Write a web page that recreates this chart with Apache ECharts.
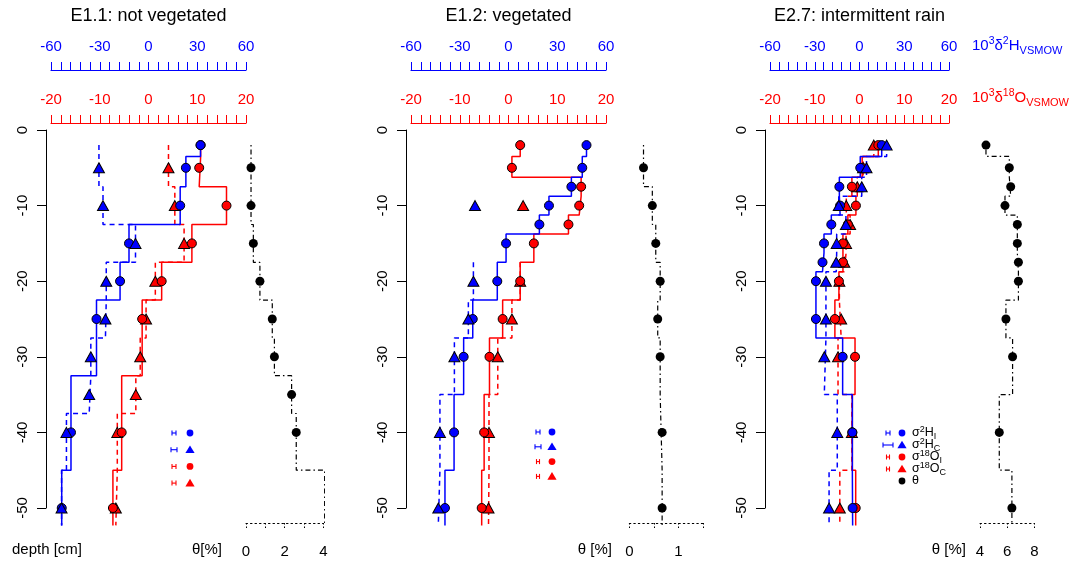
<!DOCTYPE html>
<html>
<head>
<meta charset="utf-8">
<script src="https://cdn.jsdelivr.net/npm/echarts@6/dist/echarts.min.js"></script>
<style>
  html, body { margin: 0; background: #fff; }
  #chart { width: 1069px; height: 566px; }
</style>
</head>
<body>
<div id="chart"></div>
<script>
// sampling depths [cm] and profiles, one set per experiment
const depth1 = [-2, -5, -10, -15, -20, -25, -30, -35, -40, -50];
const h2I_1 = [32, 23, 19.5, -12, -17.5, -32, null, null, -47.7, -53.4];
const h2C_1 = [null, -30.5, -28, -8, -26, -26.5, -35.5, -36.5, -50.5, -53.5];
const o18I_1 = [10.7, 10.4, 16, 8.9, 2.7, -1.3, null, null, -5.5, -7.3];
const o18C_1 = [null, 4.1, 5.4, 7.3, 1.4, -0.5, -1.7, -2.6, -6.4, -6.7];
const theta1 = [null, 0.26, 0.26, 0.38, 0.72, 1.36, 1.47, 2.36, 2.6, 4.07];

const depth2 = [-2, -5, -7.5, -10, -12.5, -15, -20, -25, -30, -40, -50];
const h2I_2 = [48, 45.4, 38.7, 24.9, 19, -1.5, -6.9, -22, -27.6, -33.5, -39.1];
const h2C_2 = [null, null, null, -20.6, null, null, -21.6, -24.7, -33.3, -42.2, -43.2];
const o18I_2 = [2.4, 0.7, 14.9, 14.5, 12.3, 5.2, 2.4, -1.2, -3.9, -5.0, -5.5];
const o18C_2 = [null, null, null, 3.0, null, null, 2.4, 0.7, -2.2, -4.0, -4.1];
const theta2 = [null, 0.29, null, 0.47, null, 0.54, 0.63, 0.58, 0.63, 0.67, 0.67];

const depth3 = [-2, -5, -7.5, -10, -12.5, -15, -17.5, -20, -25, -30, -40, -50];
const h2I_3 = [14.9, 0.5, -13.5, -13, -18.9, -23.8, -24.8, -29.2, -29.2, -11.3, -4.8, -4.6];
const h2C_3 = [18.2, 4.7, 1.5, -13.9, -9.1, -15.3, -15.6, -22.5, -22.5, -23.6, -14.9, -20.4];
const o18I_3 = [4.2, 0.6, -1.7, -0.8, -2.6, -3.7, -3.7, -4.6, -5.5, -1.0, -1.6, -0.85];
const o18C_3 = [3.2, 0.8, -0.5, -2.95, -2.1, -3.0, -3.4, -4.5, -4.1, -4.8, -1.7, -4.4];
const theta3 = [4.44, 6.16, 6.26, 5.84, 6.75, 6.75, 6.83, 6.83, 5.91, 6.40, 5.42, 6.35];

// analytical error bars shown in the legends (pixel widths)
const errBars1 = [4, 6, 4, 4];
const errBars2 = [4, 6, 3, 3];
const errBars3 = [4, 10, 3, 3];

const BLUE = '#0000ff', RED = '#ff0000';
const FONT = '"Liberation Sans", Arial, sans-serif';
const TOP = 130, H = 378, BOTTOM_DEPTH = -52.3;

const panels = [
  { title: 'E1.1: not vegetated', left: 51, width: 195, thLeft: 246, thWidth: 77.3,
    thMin: 0, thMax: 4, thStep: 1, thLabel: v => (v % 2 === 0 ? v : ''),
    depth: depth1, hI: h2I_1, hC: h2C_1, oI: o18I_1, oC: o18C_1, theta: theta1, cTop: -2,
    thName: 'θ[%]', thNameX: 222, leg: { bx: 174, mx: 190, y: 433, gap: 16.7, bars: errBars1, text: false } },
  { title: 'E1.2: vegetated', left: 411, width: 195, thLeft: 629.3, thWidth: 73.5,
    thMin: 0, thMax: 1.5, thStep: 0.5, thLabel: v => (Number.isInteger(v) ? v : ''),
    depth: depth2, hI: h2I_2, hC: h2C_2, oI: o18I_2, oC: o18C_2, theta: theta2, cTop: -17.5,
    thName: 'θ [%]', thNameX: 612, leg: { bx: 538, mx: 552, y: 432, gap: 14.8, bars: errBars2, text: false } },
  { title: 'E2.7: intermittent rain', left: 770, width: 179, thLeft: 980, thWidth: 54.3,
    thMin: 4, thMax: 8, thStep: 2, thLabel: v => v,
    depth: depth3, hI: h2I_3, hC: h2C_3, oI: o18I_3, oC: o18C_3, theta: theta3, cTop: -2,
    thName: 'θ [%]', thNameX: 966, leg: { bx: 888, mx: 902, y: 433, gap: 12, bars: errBars3, text: true } }
];

// step profile: each sample holds its value down to the midpoint with the next sample
function stepLine(depths, values, top) {
  const pts = depths.map((d, i) => [d, values[i]]).filter(p => p[1] != null && p[0] <= top);
  const out = [];
  let start = top;
  pts.forEach((p, i) => {
    const end = i < pts.length - 1 ? (p[0] + pts[i + 1][0]) / 2 : BOTTOM_DEPTH;
    out.push([p[1], start], [p[1], end]);
    start = end;
  });
  return out;
}
function points(depths, values) {
  return depths.map((d, i) => [values[i], d]).filter(p => p[0] != null);
}

const grid = [], xAxis = [], yAxis = [], series = [], graphic = [];

panels.forEach((P, i) => {
  grid.push({ left: P.left, top: TOP, width: P.width, height: H });
  grid.push({ left: P.thLeft, top: TOP, width: P.thWidth, height: H });

  yAxis.push({
    gridIndex: 2 * i, type: 'value', min: -50, max: 0, interval: 10, offset: 5,
    axisLine: { show: true, onZero: false, lineStyle: { color: '#000', width: 1 } },
    axisTick: { show: true, length: 9, lineStyle: { color: '#000' } },
    axisLabel: { rotate: 90, margin: 16, fontSize: 15, color: '#000', fontFamily: FONT },
    splitLine: { show: false }
  });
  yAxis.push({ gridIndex: 2 * i + 1, type: 'value', min: -50, max: 0, show: false });

  const isoAxis = (color, min, max, interval, offset) => ({
    gridIndex: 2 * i, type: 'value', position: 'top', offset, min, max, interval,
    axisLine: { show: true, onZero: false, lineStyle: { color, width: 1.2 } },
    axisTick: { show: true, length: 8, lineStyle: { color } },
    minorTick: { show: true, splitNumber: 5, length: 8, lineStyle: { color } },
    axisLabel: { color, fontSize: 15, margin: 16, fontFamily: FONT },
    splitLine: { show: false }, minorSplitLine: { show: false }
  });
  xAxis.push(isoAxis(BLUE, -60, 60, 30, 60));
  xAxis.push(isoAxis(RED, -20, 20, 10, 7));
  xAxis.push({
    gridIndex: 2 * i + 1, type: 'value', position: 'bottom', offset: 15,
    min: P.thMin, max: P.thMax, interval: P.thStep,
    axisLine: { show: true, onZero: false, lineStyle: { color: '#000', type: [1.5, 3] } },
    axisTick: { show: true, length: 7, lineStyle: { color: '#000', type: [1.5, 2] } },
    axisLabel: { color: '#000', fontSize: 15, margin: 21, fontFamily: FONT, formatter: P.thLabel },
    splitLine: { show: false }
  });

  const bx = 3 * i, rx = 3 * i + 1, tx = 3 * i + 2, y = 2 * i;
  const lineS = (xi, vals, color, dashed, top) => ({
    type: 'line', xAxisIndex: xi, yAxisIndex: y, data: stepLine(P.depth, vals, top),
    symbol: 'none', clip: false, silent: true, z: 2, animation: false,
    lineStyle: { color, width: 1.5, type: dashed ? [5, 4] : 'solid' }
  });
  const dotS = (xi, vals, color, symbol) => ({
    type: 'scatter', xAxisIndex: xi, yAxisIndex: y, data: points(P.depth, vals),
    symbol, symbolSize: symbol === 'circle' ? 9 : [11, 10], z: 3, silent: true,
    itemStyle: { color, borderColor: '#000', borderWidth: 1, opacity: 1 }
  });
  series.push(
    lineS(rx, P.oI, RED, false, -2),
    lineS(rx, P.oC, RED, true, P.cTop),
    lineS(bx, P.hI, BLUE, false, -2),
    lineS(bx, P.hC, BLUE, true, P.cTop),
    dotS(rx, P.oC, RED, 'triangle'),
    dotS(rx, P.oI, RED, 'circle'),
    dotS(bx, P.hI, BLUE, 'circle'),
    dotS(bx, P.hC, BLUE, 'triangle'),
    {
      type: 'line', xAxisIndex: tx, yAxisIndex: y + 1, data: stepLine(P.depth, P.theta, -2),
      symbol: 'none', clip: false, silent: true, z: 2,
      lineStyle: { color: '#000', width: 1.2, type: [1.5, 3, 5, 3] }
    },
    {
      type: 'scatter', xAxisIndex: tx, yAxisIndex: y + 1, data: points(P.depth, P.theta),
      symbol: 'circle', symbolSize: 9, z: 3, silent: true, itemStyle: { color: '#000', opacity: 1 }
    }
  );

  // titles and axis names
  graphic.push({
    type: 'text', x: P.left + P.width / 2, y: 16,
    style: { text: P.title, fontSize: 18, fontFamily: FONT, fill: '#000', align: 'center', verticalAlign: 'middle' }
  });
  graphic.push({
    type: 'text', x: P.thNameX, y: 550,
    style: { text: P.thName, fontSize: 15, fontFamily: FONT, fill: '#000', align: 'right', verticalAlign: 'middle' }
  });

  // legend: error bar + marker (+ label in the last panel)
  const L = P.leg;
  const rows = [
    { c: BLUE, m: 'circle', t: '{m|σ}{s|2}{m|H}{b|I}' },
    { c: BLUE, m: 'triangle', t: '{m|σ}{s|2}{m|H}{b|C}' },
    { c: RED, m: 'circle', t: '{m|σ}{s|18}{m|O}{b|I}' },
    { c: RED, m: 'triangle', t: '{m|σ}{s|18}{m|O}{b|C}' }
  ];
  if (L.text) rows.push({ c: '#000', m: 'circle', t: '{m|θ}' });
  rows.forEach((r, k) => {
    const yy = L.y + k * L.gap;
    const w = L.bars[k];
    if (w) {
      const a = L.bx - w / 2, b = L.bx + w / 2;
      [[a, yy, b, yy], [a, yy - 2.5, a, yy + 2.5], [b, yy - 2.5, b, yy + 2.5]].forEach(s => {
        graphic.push({ type: 'line', shape: { x1: s[0], y1: s[1], x2: s[2], y2: s[3] }, style: { stroke: r.c, lineWidth: 1.1 } });
      });
    }
    if (r.m === 'circle') {
      graphic.push({ type: 'circle', shape: { cx: L.mx, cy: yy, r: 3.4 }, style: { fill: r.c } });
    } else {
      graphic.push({ type: 'polygon', shape: { points: [[L.mx, yy - 4.3], [L.mx - 4.6, yy + 3.3], [L.mx + 4.6, yy + 3.3]] }, style: { fill: r.c } });
    }
    if (L.text) {
      graphic.push({
        type: 'text', x: L.mx + 10, y: yy - 8,
        style: {
          text: r.t, fill: '#000', fontFamily: FONT, align: 'left', verticalAlign: 'top',
          rich: {
            m: { fontSize: 12.5, lineHeight: 16, fontFamily: FONT, fill: '#000' },
            s: { fontSize: 9, verticalAlign: 'top', fontFamily: FONT, fill: '#000' },
            b: { fontSize: 9, verticalAlign: 'bottom', fontFamily: FONT, fill: '#000' }
          }
        }
      });
    }
  });
});

graphic.push({
  type: 'text', x: 12, y: 550,
  style: { text: 'depth [cm]', fontSize: 15, fontFamily: FONT, fill: '#000', align: 'left', verticalAlign: 'middle' }
});

const unitRich = color => ({
  m: { fontSize: 15, lineHeight: 20, fontFamily: FONT, fill: color },
  s: { fontSize: 10.5, verticalAlign: 'top', fontFamily: FONT, fill: color },
  b: { fontSize: 11, verticalAlign: 'bottom', fontFamily: FONT, fill: color }
});
graphic.push({
  type: 'text', x: 972, y: 36,
  style: { text: '{m|10}{s|3}{m|δ}{s|2}{m|H}{b|VSMOW}', align: 'left', verticalAlign: 'top', rich: unitRich(BLUE) }
});
graphic.push({
  type: 'text', x: 972, y: 88,
  style: { text: '{m|10}{s|3}{m|δ}{s|18}{m|O}{b|VSMOW}', align: 'left', verticalAlign: 'top', rich: unitRich(RED) }
});

const chart = echarts.init(document.getElementById('chart'), null, { renderer: 'canvas' });
chart.setOption({
  animation: false,
  backgroundColor: '#fff',
  textStyle: { fontFamily: FONT },
  grid, xAxis, yAxis, series, graphic
});
</script>
</body>
</html>
